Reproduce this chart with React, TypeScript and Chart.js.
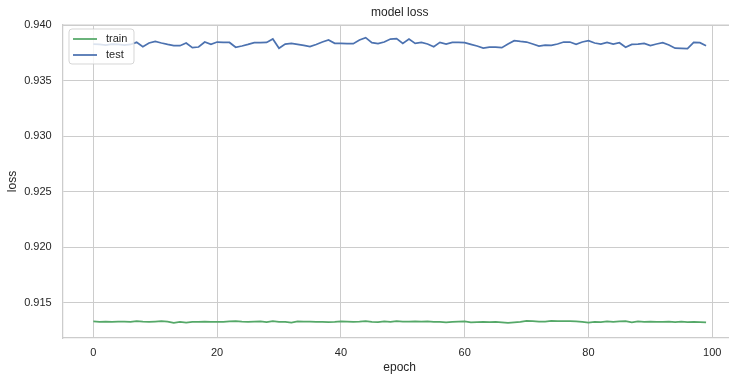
import React, { useEffect, useRef } from "react";
import { Chart, registerables } from "chart.js";
Chart.register(...registerables);

const trainLoss = [
  0.91334, 0.9133, 0.91332, 0.9133, 0.91333, 0.91332, 0.91331, 0.91337, 0.91332, 0.91331,
  0.91333, 0.91336, 0.91333, 0.91322, 0.91329, 0.91324, 0.91331, 0.9133, 0.91332, 0.91331,
  0.9133, 0.91331, 0.91335, 0.91337, 0.91333, 0.91331, 0.91333, 0.91334, 0.91327, 0.91337,
  0.91331, 0.9133, 0.91323, 0.91334, 0.91333, 0.91332, 0.9133, 0.91331, 0.91328, 0.9133,
  0.91335, 0.91332, 0.9133, 0.91332, 0.91336, 0.9133, 0.91328, 0.91334, 0.91331, 0.91336,
  0.91332, 0.91333, 0.91335, 0.91332, 0.91334, 0.91331, 0.9133, 0.91326, 0.91329, 0.91333,
  0.91335, 0.91326, 0.91328, 0.9133, 0.91327, 0.91331, 0.91326, 0.91321, 0.91325, 0.91329,
  0.91338, 0.91336, 0.91332, 0.91333, 0.91338, 0.91336, 0.91337, 0.91336, 0.91334, 0.9133,
  0.91324, 0.91329, 0.91328, 0.91334, 0.9133, 0.91335, 0.91337, 0.91326, 0.91334, 0.9133,
  0.91333, 0.91331, 0.91329, 0.91332, 0.91327, 0.91333, 0.91328, 0.9133, 0.91328, 0.91325,
];

const testLoss = [
  0.93829, 0.93825, 0.9382, 0.93829, 0.93825, 0.9382, 0.93825, 0.93844, 0.93805, 0.93838,
  0.93853, 0.93838, 0.93825, 0.93814, 0.93814, 0.93838, 0.93796, 0.93802, 0.93847, 0.93826,
  0.93847, 0.93844, 0.93843, 0.938, 0.93811, 0.93825, 0.93841, 0.93841, 0.93843, 0.93874,
  0.93791, 0.93829, 0.93835, 0.93825, 0.93816, 0.93805, 0.93825, 0.93847, 0.93865, 0.93835,
  0.93834, 0.93832, 0.93832, 0.93865, 0.93886, 0.93841, 0.93832, 0.93847, 0.93874, 0.93877,
  0.93835, 0.93874, 0.93835, 0.93843, 0.93829, 0.93805, 0.93844, 0.93829, 0.93844, 0.93843,
  0.93841, 0.93826, 0.93811, 0.93793, 0.938, 0.93802, 0.93796, 0.93829, 0.93859, 0.93852,
  0.93847, 0.93829, 0.93811, 0.9382, 0.93816, 0.93829, 0.93847, 0.93847, 0.93826, 0.93847,
  0.93859, 0.93838, 0.93829, 0.93844, 0.93829, 0.93841, 0.938, 0.93826, 0.93829, 0.93835,
  0.93814, 0.93829, 0.93841, 0.9382, 0.93791, 0.93789, 0.93787, 0.93844, 0.93841, 0.93814,
];

const xTicks = [0, 20, 40, 60, 80, 100];
const yTicks = [0.915, 0.92, 0.925, 0.93, 0.935, 0.94];
const seriesNames = ["train", "test"];
const seriesColors = ["#55a868", "#4c72b0"];
const chartTitle = "model loss";
const xLabel = "epoch";
const yLabel = "loss";

const FONT = "'Liberation Sans', Arial, Helvetica, sans-serif";
const TEXT = "#262626";
const GRID = "#cccccc";

export default function App() {
  const ref = useRef<HTMLCanvasElement>(null);

  useEffect(() => {
    const canvas = ref.current;
    if (!canvas) return;

    const overlay = {
      id: "overlay",
      afterDatasetsDraw(chart: any) {
        const ctx = chart.ctx;
        const area = chart.chartArea;
        ctx.save();
        // top frame
        ctx.strokeStyle = GRID;
        ctx.lineWidth = 1.25;
        ctx.beginPath();
        ctx.moveTo(area.left, area.top);
        ctx.lineTo(area.right, area.top);
        ctx.stroke();
        // title
        ctx.fillStyle = TEXT;
        ctx.font = `12px ${FONT}`;
        ctx.textAlign = "center";
        ctx.textBaseline = "middle";
        ctx.fillText(chartTitle, (area.left + area.right) / 2, 13);
        // legend
        const bx = 69, by = 29, bw = 65, bh = 35, r = 3;
        ctx.beginPath();
        ctx.moveTo(bx + r, by);
        ctx.lineTo(bx + bw - r, by);
        ctx.quadraticCurveTo(bx + bw, by, bx + bw, by + r);
        ctx.lineTo(bx + bw, by + bh - r);
        ctx.quadraticCurveTo(bx + bw, by + bh, bx + bw - r, by + bh);
        ctx.lineTo(bx + r, by + bh);
        ctx.quadraticCurveTo(bx, by + bh, bx, by + bh - r);
        ctx.lineTo(bx, by + r);
        ctx.quadraticCurveTo(bx, by, bx + r, by);
        ctx.closePath();
        ctx.fillStyle = "rgba(255,255,255,0.8)";
        ctx.fill();
        ctx.strokeStyle = "rgba(204,204,204,0.8)";
        ctx.lineWidth = 1;
        ctx.stroke();
        ctx.font = `11px ${FONT}`;
        ctx.textAlign = "left";
        chart.data.datasets.forEach((ds: any, i: number) => {
          const y = 39 + i * 16;
          ctx.strokeStyle = ds.borderColor;
          ctx.lineWidth = 1.75;
          ctx.beginPath();
          ctx.moveTo(73, y);
          ctx.lineTo(97, y);
          ctx.stroke();
          ctx.fillStyle = TEXT;
          ctx.fillText(ds.label, 106, y);
        });
        ctx.restore();
      },
    };

    const chart = new Chart(canvas, {
      type: "line",
      data: {
        datasets: [trainLoss, testLoss].map((arr, k) => ({
          label: seriesNames[k],
          data: arr.map((v, i) => ({ x: i, y: v })),
          borderColor: seriesColors[k],
          backgroundColor: seriesColors[k],
          borderWidth: 1.75,
          pointRadius: 0,
          tension: 0,
          fill: false,
        })),
      },
      options: {
        responsive: false,
        animation: false,
        events: [],
        layout: { padding: { left: 0, right: 8.3, top: 25, bottom: 0 } },
        plugins: {
          legend: { display: false },
          title: { display: false },
          tooltip: { enabled: false },
        },
        scales: {
          x: {
            type: "linear",
            min: -4.95,
            max: 103.95,
            afterBuildTicks: (s: any) => {
              s.ticks = xTicks.map((v) => ({ value: v }));
            },
            afterFit: (s: any) => {
              s.height = 38;
            },
            ticks: {
              font: { family: FONT, size: 11 },
              color: TEXT,
              padding: 8,
              maxRotation: 0,
              autoSkip: false,
              callback: (v: any) => String(v),
            },
            grid: { color: GRID, lineWidth: 1, drawTicks: false },
            border: { display: true, color: GRID, width: 1.25 },
            title: {
              display: true,
              text: xLabel,
              font: { family: FONT, size: 12 },
              color: TEXT,
              padding: { top: 0, bottom: 1 },
            },
          },
          y: {
            type: "linear",
            min: 0.91185,
            max: 0.94,
            afterBuildTicks: (s: any) => {
              s.ticks = yTicks.map((v) => ({ value: v }));
            },
            afterFit: (s: any) => {
              s.width = 62.7;
            },
            ticks: {
              font: { family: FONT, size: 11 },
              color: TEXT,
              padding: 11,
              autoSkip: false,
              callback: (v: any) => Number(v).toFixed(3),
            },
            grid: { color: GRID, lineWidth: 1, drawTicks: false },
            border: { display: true, color: GRID, width: 1.25 },
            title: {
              display: true,
              text: yLabel,
              font: { family: FONT, size: 12 },
              color: TEXT,
              padding: { top: 5, bottom: 0 },
            },
          },
        },
      },
      plugins: [overlay],
    } as any);

    return () => chart.destroy();
  }, []);

  return (
    <div
      style={{
        position: "fixed",
        left: 0,
        top: 0,
        width: 729,
        height: 376,
        overflow: "hidden",
        background: "#ffffff",
      }}
    >
      <canvas ref={ref} width={745} height={376} style={{ display: "block", width: 745, height: 376 }} />
    </div>
  );
}
